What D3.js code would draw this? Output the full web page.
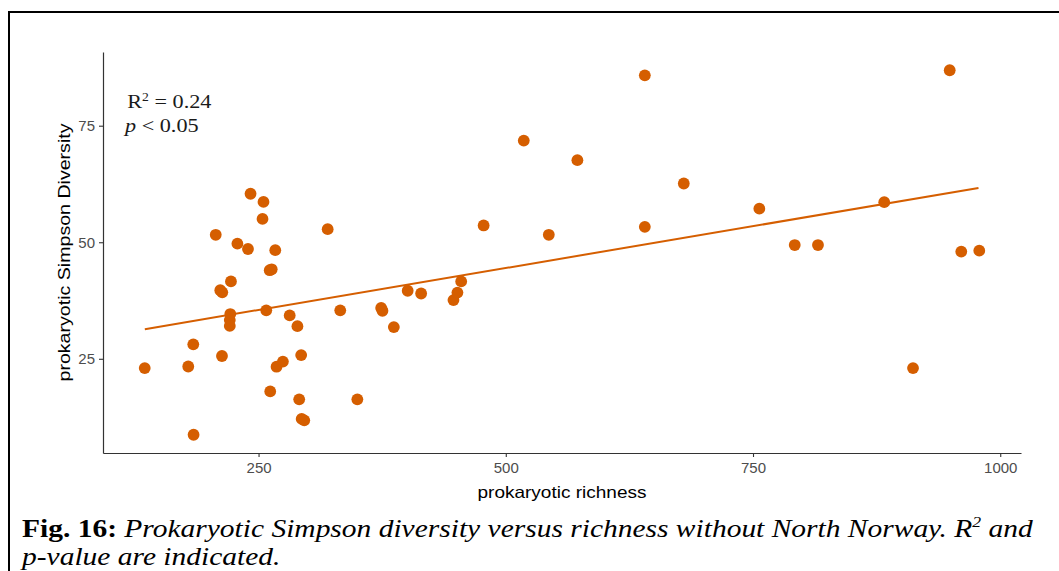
<!DOCTYPE html>
<html lang="en">
<head>
  <meta charset="UTF-8"/>
  <title>Prokaryotic Simpson diversity vs richness</title>
  <script src="https://d3js.org/d3.v7.min.js"></script>
  <style>
    body { margin:0; background:#fff; }
    svg { display:block; }
    .tick text { font-family:"Liberation Sans",Arial,sans-serif; fill:#4d4d4d; }
  </style>
</head>
<body>
  <svg id="chart" width="1059" height="571"></svg>

  <script>
    // values (richness, Simpson diversity)
    const richness = [
      134.9, 178.9, 184.0, 184.3, 206.7, 211.3, 213.3, 213.0, 222.1, 221.4,
      220.9, 220.9, 228.6, 239.3, 241.9, 254.0, 255.0, 257.8, 261.8, 261.3,
      263.3, 266.9, 268.2, 274.6, 281.5, 289.3, 291.1, 293.1, 293.6, 296.2,
      319.9, 332.6, 349.9, 374.0, 375.3, 386.8, 400.8, 414.4, 447.1, 451.1,
      454.9, 477.6, 518.2, 543.5, 572.4, 640.6, 640.6, 680.0, 756.4, 792.2,
      815.7, 882.7, 911.8, 948.9, 960.6, 978.8
    ];
    const simpson = [
      23.0, 23.35, 28.1, 8.7, 51.6, 39.7, 39.25, 25.6, 41.6, 34.6,
      33.3, 32.05, 49.7, 48.55, 60.4, 55.0, 58.65, 35.4, 18.0, 44.0,
      44.2, 48.3, 23.3, 24.4, 34.3, 32.0, 16.3, 25.8, 12.1, 11.8,
      52.8, 35.4, 16.3, 35.9, 35.3, 31.8, 39.6, 39.0, 37.6, 39.2,
      41.6, 53.6, 71.8, 51.6, 67.6, 85.8, 53.3, 62.6, 57.2, 49.4,
      49.4, 58.6, 23.0, 86.9, 48.0, 48.2
    ];
    // fitted lm line, ends
    const fitX = [135, 978];
    const fitY = [31.35, 61.65];

    const xTicks = [250, 500, 750, 1000];
    const yTicks = [25, 50, 75];
    const dotColor = '#d55e00';

    const svg = d3.select('#chart');

    // outer frame (cut off on the right and bottom)
    svg.append('path')
      .attr('d','M9,575 L9,12 L1065,12')
      .attr('fill','none').attr('stroke','#000').attr('stroke-width',2);

    const pL = 103, pR = 1021, pT = 52, pB = 453;

    // ggplot style 5% expansion
    const xr = d3.extent(richness), yr = d3.extent(simpson);
    const xp = (xr[1]-xr[0])*0.05, yp = (yr[1]-yr[0])*0.05;
    const x = d3.scaleLinear().domain([xr[0]-xp, xr[1]+xp]).range([pL, pR]);
    const y = d3.scaleLinear().domain([yr[0]-yp, yr[1]+yp]).range([pB, pT]);

    // axes
    const gx = svg.append('g').attr('transform',`translate(0,${pB})`)
      .call(d3.axisBottom(x).tickValues(xTicks).tickFormat(d3.format('d'))
        .tickSizeInner(4).tickSizeOuter(0).tickPadding(5));
    const gy = svg.append('g').attr('transform',`translate(${pL},0)`)
      .call(d3.axisLeft(y).tickValues(yTicks).tickFormat(d3.format('d'))
        .tickSizeInner(4).tickSizeOuter(0).tickPadding(4));
    [gx, gy].forEach(g=>{
      g.select('.domain').attr('stroke','#333').attr('stroke-width',1.2);
      g.selectAll('.tick line').attr('stroke','#333').attr('stroke-width',1.1);
      g.selectAll('.tick text').attr('font-size',15);
    });

    // axis titles
    svg.append('text')
      .attr('x',(pL+pR)/2).attr('y',498)
      .attr('text-anchor','middle')
      .attr('font-family','Liberation Sans, Arial, sans-serif')
      .attr('font-size',16.5).attr('fill','#000')
      .attr('textLength',169).attr('lengthAdjust','spacingAndGlyphs')
      .text('prokaryotic richness');
    svg.append('text')
      .attr('transform',`translate(70,${(pT+pB)/2}) rotate(-90)`)
      .attr('text-anchor','middle')
      .attr('font-family','Liberation Sans, Arial, sans-serif')
      .attr('font-size',16.5).attr('fill','#000')
      .attr('textLength',258).attr('lengthAdjust','spacingAndGlyphs')
      .text('prokaryotic Simpson Diversity');

    // regression line
    svg.append('path')
      .datum(fitX.map((d,i)=>[d, fitY[i]]))
      .attr('d', d3.line().x(d=>x(d[0])).y(d=>y(d[1])))
      .attr('fill','none').attr('stroke',dotColor).attr('stroke-width',2);

    // points
    svg.append('g').selectAll('circle')
      .data(richness.map((d,i)=>({rx:d, sd:simpson[i]})))
      .join('circle')
        .attr('cx',d=>x(d.rx)).attr('cy',d=>y(d.sd))
        .attr('r',5.9).attr('fill',dotColor);

    // R2 / p annotation
    const ann = svg.append('g')
      .attr('transform','translate(125,0) scale(1.14,1)')
      .attr('font-family','Liberation Serif, Times New Roman, serif')
      .attr('font-size',19.5).attr('fill','#1a1a1a');
    const r2 = ann.append('text').attr('x',2).attr('y',108);
    r2.append('tspan').text('R');
    r2.append('tspan').attr('font-size',12).attr('dy',-7).text('2');
    r2.append('tspan').attr('dy',7).text(' = 0.24');
    const pv = ann.append('text').attr('x',0).attr('y',132);
    pv.append('tspan').attr('font-style','italic').text('p');
    pv.append('tspan').text(' < 0.05');

    // caption
    const cap = svg.append('g')
      .attr('font-family','Liberation Serif, Times New Roman, serif')
      .attr('font-size',25).attr('fill','#000');
    const l1 = cap.append('text').attr('x',0).attr('y',537);
    l1.append('tspan').attr('font-weight','bold').text('Fig. 16: ');
    l1.append('tspan').attr('font-style','italic')
      .text('Prokaryotic Simpson diversity versus richness without North Norway. R');
    l1.append('tspan').attr('font-style','italic').attr('font-size',15).attr('dy',-10).text('2');
    l1.append('tspan').attr('font-style','italic').attr('dy',10).text(' and');
    cap.append('text').attr('x',0).attr('y',565)
      .attr('font-style','italic').text('p-value are indicated.');
    // stretch the caption to the width it has in the figure
    const capW = l1.node().getComputedTextLength();
    cap.attr('transform',`translate(22,0) scale(${1011/capW},1)`);
  </script>
</body>
</html>
